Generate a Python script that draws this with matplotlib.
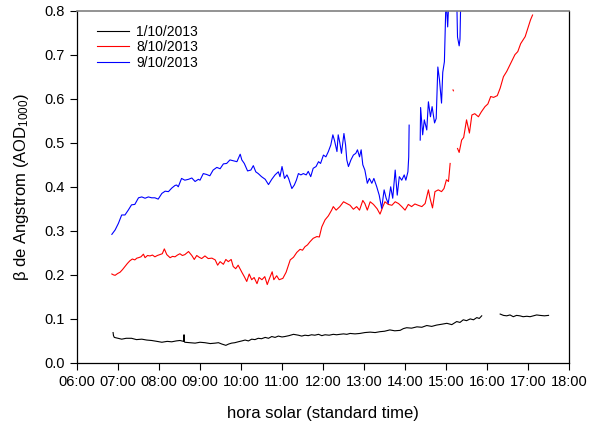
import matplotlib
matplotlib.use("Agg")
import matplotlib.pyplot as plt
from matplotlib.ticker import FuncFormatter, MultipleLocator
import numpy as np

plt.rcParams['font.family'] = ['Liberation Sans', 'DejaVu Sans']
plt.rcParams['mathtext.default'] = 'regular'

nan = np.nan

# solar time (decimal hours) and beta values, one pair of lists per day
t_0110 = [6.88, 6.89, 6.91, 7.0, 7.09, 7.2, 7.33, 7.45, 7.58, 7.7, 7.82, 7.95,
          8.07, 8.2, 8.31, 8.42, 8.51, 8.6, 8.61, 8.62, 8.63, 8.75, 8.88, 9.0,
          9.12, 9.25, 9.37, 9.45, 9.53, 9.63, 9.7, 9.77, 9.85, 9.93, 10.02, 10.1,
          10.18, 10.26, 10.34, 10.42, 10.5, 10.59, 10.67, 10.75, 10.83, 10.91, 11.0, 11.07,
          11.17, 11.28, 11.4, 11.48, 11.56, 11.64, 11.72, 11.8, 11.89, 11.97, 12.05, 12.15,
          12.25, 12.33, 12.41, 12.5, 12.58, 12.66, 12.78, 12.9, 13.02, 13.15, 13.27, 13.39,
          13.5, 13.63, 13.75, 13.88, 13.96, 14.04, 14.16, 14.29, 14.41, 14.53, 14.65, 14.77,
          14.9, 15.02, 15.14, 15.26, 15.34, 15.42, 15.5, 15.59, 15.67, 15.75, 15.81, 15.87,
          nan, 16.32, 16.4, 16.48, 16.56, 16.64, 16.72, 16.8, 16.88, 16.97, 17.05, 17.13,
          17.21, 17.29, 17.4, 17.5]
b_0110 = [0.069, 0.062, 0.058, 0.056, 0.054, 0.056, 0.056, 0.053, 0.054, 0.052, 0.051, 0.049,
          0.047, 0.049, 0.048, 0.050, 0.051, 0.049, 0.064, 0.048, 0.047, 0.046, 0.045, 0.047,
          0.046, 0.044, 0.045, 0.046, 0.043, 0.040, 0.043, 0.045, 0.046, 0.048, 0.050, 0.052,
          0.050, 0.054, 0.053, 0.056, 0.055, 0.058, 0.056, 0.060, 0.058, 0.061, 0.059, 0.060,
          0.062, 0.065, 0.063, 0.061, 0.063, 0.062, 0.064, 0.063, 0.065, 0.062, 0.064, 0.063,
          0.065, 0.064, 0.065, 0.066, 0.065, 0.067, 0.066, 0.067, 0.069, 0.070, 0.069, 0.071,
          0.072, 0.075, 0.073, 0.074, 0.078, 0.080, 0.079, 0.082, 0.081, 0.085, 0.083, 0.086,
          0.088, 0.090, 0.087, 0.094, 0.092, 0.098, 0.096, 0.100, 0.098, 0.103, 0.101, 0.107,
          nan, 0.111, 0.108, 0.107, 0.109, 0.105, 0.108, 0.107, 0.105, 0.106, 0.105, 0.107,
          0.109, 0.108, 0.107, 0.108]

t_0810 = [6.85, 6.89, 6.93, 6.99, 7.05, 7.11, 7.17, 7.23, 7.29, 7.35, 7.41, 7.46,
          7.5, 7.56, 7.62, 7.66, 7.72, 7.78, 7.84, 7.9, 7.96, 8.02, 8.08, 8.13,
          8.19, 8.27, 8.33, 8.39, 8.45, 8.51, 8.57, 8.63, 8.72, 8.8, 8.86, 8.92,
          8.98, 9.04, 9.12, 9.2, 9.29, 9.37, 9.43, 9.49, 9.57, 9.63, 9.69, 9.76,
          9.81, 9.87, 9.93, 10.02, 10.08, 10.14, 10.2, 10.26, 10.32, 10.39, 10.44, 10.51,
          10.58, 10.64, 10.69, 10.76, 10.8, 10.87, 10.93, 11.02, 11.1, 11.14, 11.2, 11.28,
          11.36, 11.44, 11.5, 11.56, 11.62, 11.68, 11.76, 11.85, 11.91, 11.97, 12.05, 12.13,
          12.21, 12.25, 12.32, 12.41, 12.5, 12.58, 12.66, 12.74, 12.82, 12.89, 12.97, 13.02,
          13.08, 13.15, 13.23, 13.32, 13.39, 13.46, 13.51, 13.59, 13.68, 13.76, 13.84, 13.92,
          14.0, 14.08, 14.16, 14.24, 14.32, 14.41, 14.49, 14.57, 14.61, 14.67, 14.73, 14.81,
          14.89, 14.95, 15.01, 15.06, 15.1, nan, 15.17, 15.18, nan, 15.28, 15.32, 15.38,
          15.43, 15.5, 15.57, 15.63, 15.7, 15.79, 15.86, 15.95, 16.02, 16.09, 16.16, 16.25,
          16.32, 16.4, 16.48, 16.56, 16.62, 16.68, 16.75, 16.82, 16.93, 17.01, 17.06, 17.11]
b_0810 = [0.202, 0.200, 0.199, 0.203, 0.206, 0.212, 0.219, 0.226, 0.232, 0.236, 0.234, 0.238,
          0.239, 0.241, 0.247, 0.239, 0.244, 0.243, 0.245, 0.241, 0.244, 0.246, 0.248, 0.259,
          0.246, 0.239, 0.242, 0.241, 0.245, 0.248, 0.244, 0.246, 0.253, 0.244, 0.235, 0.244,
          0.240, 0.237, 0.243, 0.237, 0.238, 0.234, 0.222, 0.230, 0.224, 0.235, 0.230, 0.235,
          0.219, 0.214, 0.222, 0.206, 0.196, 0.185, 0.202, 0.189, 0.194, 0.180, 0.194, 0.189,
          0.196, 0.178, 0.191, 0.207, 0.189, 0.198, 0.189, 0.192, 0.206, 0.217, 0.234, 0.240,
          0.251, 0.258, 0.256, 0.264, 0.268, 0.275, 0.283, 0.287, 0.286, 0.309, 0.325, 0.334,
          0.347, 0.355, 0.347, 0.355, 0.366, 0.362, 0.358, 0.349, 0.355, 0.347, 0.369, 0.362,
          0.347, 0.366, 0.360, 0.350, 0.338, 0.355, 0.366, 0.360, 0.358, 0.366, 0.362, 0.355,
          0.347, 0.360, 0.355, 0.361, 0.358, 0.355, 0.362, 0.393, 0.374, 0.352, 0.389, 0.393,
          0.389, 0.396, 0.416, 0.412, 0.453, nan, 0.620, 0.618, nan, 0.487, 0.478, 0.506,
          0.512, 0.552, 0.522, 0.563, 0.566, 0.559, 0.570, 0.582, 0.588, 0.605, 0.603, 0.607,
          0.624, 0.650, 0.662, 0.677, 0.688, 0.700, 0.707, 0.725, 0.741, 0.764, 0.779, 0.790]

t_0910 = [6.85, 6.93, 7.01, 7.09, 7.17, 7.25, 7.33, 7.41, 7.5, 7.58, 7.66, 7.74,
          7.82, 7.9, 7.98, 8.07, 8.15, 8.23, 8.31, 8.39, 8.43, 8.47, 8.55, 8.63,
          8.72, 8.8, 8.88, 8.96, 9.0, 9.08, 9.16, 9.24, 9.32, 9.41, 9.49, 9.57,
          9.65, 9.73, 9.81, 9.9, 9.98, 10.02, 10.08, 10.16, 10.24, 10.3, 10.36, 10.42,
          10.5, 10.59, 10.67, 10.75, 10.83, 10.91, 10.95, 11.0, 11.06, 11.12, 11.16, 11.24,
          11.3, 11.35, 11.4, 11.46, 11.52, 11.59, 11.64, 11.7, 11.76, 11.83, 11.89, 11.94,
          12.01, 12.07, 12.13, 12.19, 12.24, 12.28, 12.34, 12.37, 12.41, 12.45, 12.51, 12.55,
          12.58, 12.62, 12.68, 12.74, 12.8, 12.84, 12.89, 12.93, 12.97, 13.02, 13.08, 13.13,
          13.19, 13.24, 13.31, 13.37, 13.43, 13.49, 13.54, 13.59, 13.65, 13.7, 13.76, 13.81,
          13.86, 13.92, 13.98, 14.02, 14.07, 14.09, 14.1, nan, 14.37, 14.38, 14.43, 14.47,
          14.53, 14.57, 14.62, 14.66, 14.72, 14.76, 14.8, 14.84, 14.89, 14.92, 14.96, 15.0,
          15.04, 15.07, 15.26, 15.28, 15.32, 15.34, 15.36, 15.6]
b_0910 = [0.292, 0.302, 0.317, 0.336, 0.336, 0.347, 0.359, 0.360, 0.375, 0.377, 0.374, 0.377,
          0.375, 0.375, 0.372, 0.385, 0.390, 0.389, 0.397, 0.403, 0.404, 0.400, 0.419, 0.415,
          0.417, 0.420, 0.412, 0.417, 0.415, 0.430, 0.428, 0.425, 0.438, 0.444, 0.441, 0.452,
          0.453, 0.461, 0.459, 0.457, 0.474, 0.461, 0.453, 0.436, 0.438, 0.448, 0.434, 0.430,
          0.423, 0.417, 0.405, 0.417, 0.427, 0.434, 0.423, 0.446, 0.419, 0.427, 0.419, 0.396,
          0.404, 0.415, 0.430, 0.427, 0.430, 0.427, 0.435, 0.423, 0.442, 0.446, 0.457, 0.453,
          0.472, 0.468, 0.480, 0.495, 0.518, 0.505, 0.480, 0.518, 0.500, 0.476, 0.521, 0.495,
          0.461, 0.446, 0.461, 0.472, 0.476, 0.484, 0.468, 0.484, 0.450, 0.438, 0.408, 0.419,
          0.408, 0.419, 0.400, 0.381, 0.351, 0.393, 0.374, 0.362, 0.400, 0.374, 0.438, 0.381,
          0.423, 0.415, 0.427, 0.415, 0.434, 0.468, 0.540, nan, 0.506, 0.580, 0.518, 0.552,
          0.529, 0.593, 0.559, 0.582, 0.545, 0.555, 0.672, 0.643, 0.590, 0.660, 0.684, 0.830,
          0.763, 0.830, 0.830, 0.740, 0.720, 0.735, 0.830, 0.830]

fig = plt.figure(figsize=(5.9, 4.25), dpi=100)
ax = fig.add_axes([0.1305, 0.146, 0.834, 0.829])

ax.plot(t_0110, b_0110, color='black', lw=0.8, label='1/10/2013')
ax.plot(t_0810, b_0810, color='#ff0000', lw=0.8, label='8/10/2013')
ax.plot(t_0910, b_0910, color='#0000ff', lw=0.8, label='9/10/2013')

ax.set_xlim(6, 18)
ax.set_ylim(0, 0.8)
ax.xaxis.set_major_locator(MultipleLocator(1))
ax.yaxis.set_major_locator(MultipleLocator(0.1))
ax.xaxis.set_major_formatter(FuncFormatter(lambda v, p: '%02d:00' % int(round(v))))
ax.yaxis.set_major_formatter(FuncFormatter(lambda v, p: '%.1f' % v))
ax.tick_params(direction='out', length=5, width=0.8, labelsize=10.5, colors='black', pad=4)
ax.tick_params(top=False, right=False)

for s in ['left', 'bottom', 'right']:
    ax.spines[s].set_linewidth(0.9)
ax.spines['top'].set_color('#808080')
ax.spines['top'].set_linewidth(1.2)

ax.set_xlabel('hora solar (standard time)', fontsize=12, labelpad=12)
ax.set_ylabel('β de Angstrom (AOD$_{1000}$)', fontsize=12, labelpad=9)

ax.legend(loc='upper left', frameon=False, fontsize=10, handlelength=2.3,
          handletextpad=0.55, labelspacing=0.1, bbox_to_anchor=(0.015, 0.995))

fig.savefig('out.png', dpi=100)
